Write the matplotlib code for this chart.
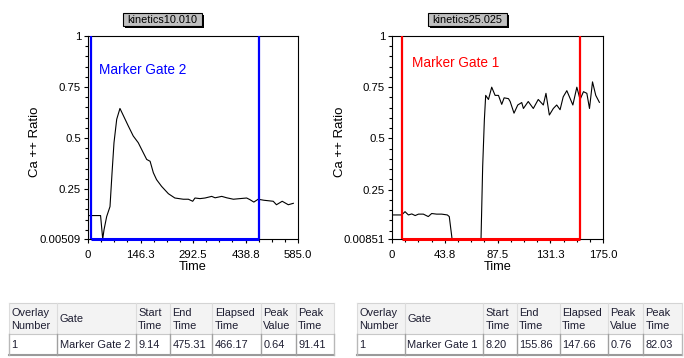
import matplotlib
matplotlib.use("Agg")
import matplotlib.pyplot as plt
from matplotlib.patches import Rectangle
from matplotlib.lines import Line2D
from matplotlib.ticker import FixedLocator, MultipleLocator

plt.rcParams['font.family'] = ['Liberation Sans', 'DejaVu Sans']

# ---------------- data ----------------
left_title = "kinetics10.010"
left_t = [0, 35, 41, 44.6, 52, 61.3, 67, 72.4, 80, 89, 98.5, 112, 126, 140, 154, 163.5,
          173, 182, 191, 205, 224, 242, 265.5, 279.6, 291.7, 298, 312, 326, 344.6, 354,
          372.6, 386.5, 405, 423, 442, 451, 462, 474, 490, 516, 525, 541, 558, 572]
left_v = [0.12, 0.12, 0.005, 0.05, 0.115, 0.164, 0.33, 0.477, 0.592, 0.645, 0.61, 0.56,
          0.51, 0.477, 0.428, 0.395, 0.386, 0.33, 0.296, 0.263, 0.227, 0.206, 0.2, 0.2,
          0.19, 0.206, 0.203, 0.206, 0.214, 0.207, 0.214, 0.207, 0.2, 0.203, 0.206,
          0.198, 0.186, 0.2, 0.195, 0.19, 0.173, 0.19, 0.173, 0.18]
left_gate = (9.14, 475.31)
left_gate_name = "Marker Gate 2"
left_ylim = (0.00509, 1.0)
left_xmax = 585.0
left_xticks = [0, 146.3, 292.5, 438.8, 585.0]
left_xticklabels = ["0", "146.3", "292.5", "438.8", "585.0"]
left_yticks = [0.00509, 0.25, 0.5, 0.75, 1.0]
left_yticklabels = ["0.00509", "0.25", "0.5", "0.75", "1"]

right_title = "kinetics25.025"
right_t = [0, 8, 10.8, 13.6, 16.4, 19.2, 22, 26, 30.1, 32.9, 37, 41.2, 45.9, 47.5, 50,
           73.8, 75.2, 76.6, 77.7, 80, 82.7, 85.5, 88.3, 91, 93, 96.6, 98, 101.2, 104.3,
           107.6, 109, 113, 117.2, 121.3, 125.5, 127.7, 130.5, 133.8, 136.6, 139.4, 142,
           145, 150, 153.3, 156, 158.8, 161.6, 163.8, 166.3, 169, 172]
right_v = [0.126, 0.126, 0.142, 0.126, 0.131, 0.123, 0.13, 0.13, 0.118, 0.133, 0.13, 0.13,
           0.126, 0.118, 0.0, 0.0, 0.362, 0.59, 0.71, 0.69, 0.75, 0.71, 0.71, 0.666,
           0.698, 0.694, 0.68, 0.623, 0.663, 0.675, 0.646, 0.68, 0.646, 0.69, 0.663, 0.72,
           0.614, 0.646, 0.663, 0.64, 0.703, 0.733, 0.663, 0.75, 0.69, 0.728, 0.72, 0.646,
           0.776, 0.71, 0.676]
right_gate = (8.20, 155.86)
right_gate_name = "Marker Gate 1"
right_ylim = (0.00851, 1.0)
right_xmax = 175.0
right_xticks = [0, 43.8, 87.5, 131.3, 175.0]
right_xticklabels = ["0", "43.8", "87.5", "131.3", "175.0"]
right_yticks = [0.00851, 0.25, 0.5, 0.75, 1.0]
right_yticklabels = ["0.00851", "0.25", "0.5", "0.75", "1"]

table_headers = ["Overlay\nNumber", "Gate", "Start\nTime", "End\nTime", "Elapsed\nTime",
                 "Peak\nValue", "Peak\nTime"]
left_row = ["1", "Marker Gate 2", "9.14", "475.31", "466.17", "0.64", "91.41"]
right_row = ["1", "Marker Gate 1", "8.20", "155.86", "147.66", "0.76", "82.03"]

# ---------------- figure ----------------
W, H = 684, 358
fig = plt.figure(figsize=(W / 100, H / 100), dpi=100)
fig.patch.set_facecolor("white")


def fx(px):
    return px / W


def fy(py):
    return 1 - py / H


def make_panel(x0, x1, t, v, gate, gname, gcolor, ylim, xmax, xt, xtl, yt, ytl,
               title, label_pos, title_cx, ylab_x):
    ax = fig.add_axes([fx(x0), fy(239), fx(x1) - fx(x0), fy(36) - fy(239)])
    ax.plot(t, v, color="black", lw=0.8, zorder=2)
    ax.set_xlim(0, xmax)
    ax.set_ylim(*ylim)
    ax.axvline(gate[0], color=gcolor, lw=1.6, zorder=3)
    ax.axvline(gate[1], color=gcolor, lw=1.6, zorder=3)
    ax.plot([gate[0], gate[1]], [ylim[0], ylim[0]], color=gcolor, lw=2.2, zorder=3,
            clip_on=False, solid_capstyle="butt")
    ax.text(label_pos[0], label_pos[1], gname, transform=ax.transAxes, color=gcolor,
            fontsize=9.8, va="center", ha="left")
    ax.xaxis.set_major_locator(FixedLocator(xt))
    ax.set_xticklabels(xtl)
    ax.xaxis.set_minor_locator(MultipleLocator(xt[1] / 4))
    ax.yaxis.set_major_locator(FixedLocator(yt))
    ax.set_yticklabels(ytl)
    ax.yaxis.set_minor_locator(MultipleLocator(0.05))
    ax.tick_params(which="major", direction="out", length=3, width=0.8, labelsize=8.2,
                   color="black")
    ax.tick_params(axis="x", which="major", pad=5)
    ax.tick_params(axis="y", which="major", pad=2)
    ax.tick_params(which="minor", direction="out", length=2, width=0.8, color="black")
    for s in ax.spines.values():
        s.set_color("black")
        s.set_linewidth(0.8)
    ax.set_xlabel("Time", fontsize=9.2)
    ax.xaxis.set_label_coords(0.5, (239 - 267) / 203)
    ax.xaxis.label.set_va("center")
    ax.set_ylabel("Ca ++ Ratio", fontsize=9.5)
    ax.yaxis.set_label_coords((ylab_x - x0) / (x1 - x0), (239 - 141.7) / 203)
    ax.yaxis.label.set_va("center")
    # title box with shadow
    bw, bh = 79, 12.5
    bx, by = title_cx - bw / 2, 13
    fig.patches.append(Rectangle((fx(bx + 2), fy(by + bh + 2)), fx(bw), fy(0) - fy(bh),
                                 transform=fig.transFigure, facecolor="black",
                                 edgecolor="none", zorder=5))
    fig.patches.append(Rectangle((fx(bx), fy(by + bh)), fx(bw), fy(0) - fy(bh),
                                 transform=fig.transFigure, facecolor="#c0c0c0",
                                 edgecolor="black", lw=0.8, zorder=6))
    fig.text(fx(title_cx), fy(by + bh / 2 + 0.3), title, ha="center", va="center",
             fontsize=7.8, zorder=7)
    return ax


make_panel(88, 298, left_t, left_v, left_gate, left_gate_name, "#0000ff", left_ylim,
           left_xmax, left_xticks, left_xticklabels, left_yticks, left_yticklabels,
           left_title, (0.052, 0.833), 162, 35)
make_panel(392, 603, right_t, right_v, right_gate, right_gate_name, "#ff0000", right_ylim,
           right_xmax, right_xticks, right_xticklabels, right_yticks, right_yticklabels,
           right_title, (0.095, 0.868), 467, 340)


def draw_table(cols, headers, row):
    top, mid, bot = 302.7, 334.3, 355
    left, right = cols[0], cols[-1]
    fig.patches.append(Rectangle((fx(left), fy(mid)), fx(right - left), fy(top) - fy(mid),
                                 transform=fig.transFigure, facecolor="#f3f3f3",
                                 edgecolor="none", zorder=1))
    fig.patches.append(Rectangle((fx(left), fy(bot)), fx(right - left), fy(mid) - fy(bot),
                                 transform=fig.transFigure, facecolor="white",
                                 edgecolor="none", zorder=1))
    lines = []
    lines.append(Line2D([fx(left), fx(right)], [fy(top), fy(top)], color="#d4d4d4", lw=0.8))
    lines.append(Line2D([fx(left), fx(right)], [fy(mid), fy(mid)], color="#c8c8c8", lw=0.8))
    lines.append(Line2D([fx(left), fx(right)], [fy(bot), fy(bot)], color="#9a9a9a", lw=1.5))
    for i, c in enumerate(cols):
        hc = "#dcdcdc"
        rc = "#a0a0a0" if 0 < i < len(cols) - 1 else "#b8b8b8"
        lines.append(Line2D([fx(c), fx(c)], [fy(top), fy(mid)], color=hc, lw=0.8))
        lines.append(Line2D([fx(c), fx(c)], [fy(mid), fy(bot)], color=rc, lw=1.0))
    for ln in lines:
        ln.set_transform(fig.transFigure)
        ln.set_zorder(2)
        fig.lines.append(ln)
    tcol = "#1e1e32"
    for i, h in enumerate(headers):
        x = fx(cols[i] + 2.5)
        parts = h.split("\n")
        if len(parts) == 2:
            fig.text(x, fy(313.3), parts[0], fontsize=7.9, va="center", ha="left", color=tcol)
            fig.text(x, fy(326.3), parts[1], fontsize=7.9, va="center", ha="left", color=tcol)
        else:
            fig.text(x, fy(319.5), h, fontsize=7.9, va="center", ha="left", color=tcol)
        fig.text(fx(cols[i] + 2.5), fy(345), row[i], fontsize=7.9, va="center", ha="left",
                 color=tcol)


draw_table([9, 57.3, 135.7, 170, 212.3, 260.7, 295.7, 334.3], table_headers, left_row)
draw_table([357, 404.7, 483, 516.7, 559.7, 607.7, 643, 682], table_headers, right_row)

fig.savefig("out.png", dpi=100, facecolor="white")
